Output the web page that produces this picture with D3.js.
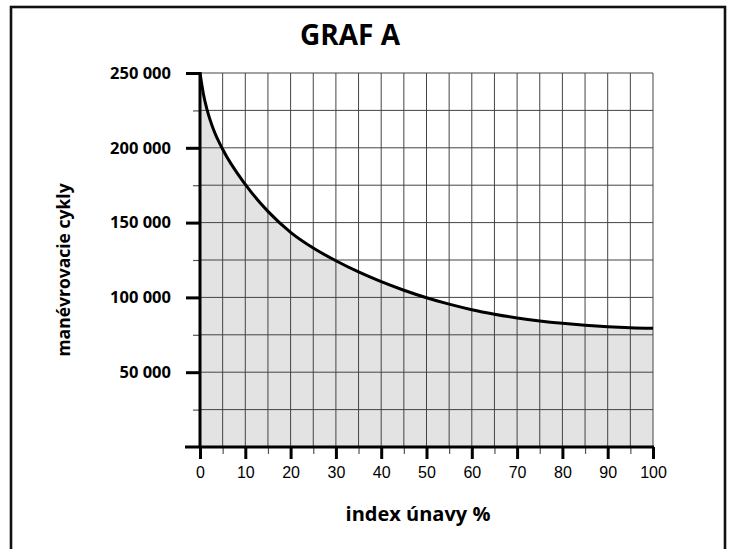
<!DOCTYPE html>
<html>
<head>
<meta charset="utf-8">
<script src="https://cdn.jsdelivr.net/npm/d3@7"></script>
<style>
  html, body { margin: 0; padding: 0; background: #fff; }
  svg { display: block; }
</style>
</head>
<body>
<svg id="chart" width="729" height="549"></svg>
<script>
// ---- data ----
const fatigueIndex = [0, 0.75, 1.6, 3, 5, 10, 15, 20, 25, 30, 35, 40, 45, 50, 55, 60, 65, 70, 75, 80, 85, 90, 95, 100];
const maneuverCycles = [250000, 236000, 225000, 212000, 199000, 175500, 157500, 143500, 133000, 124500, 117000, 110500, 104800, 99800, 95500, 91800, 88800, 86300, 84300, 82700, 81400, 80400, 79700, 79300];
const xMajorTicks = [0, 10, 20, 30, 40, 50, 60, 70, 80, 90, 100];
const xMinorTicks = [5, 15, 25, 35, 45, 55, 65, 75, 85, 95];
const yMajorTicks = [50000, 100000, 150000, 200000, 250000];
const yMinorTicks = [25000, 75000, 125000, 175000, 225000];
const titleText = "GRAF A";
const xTitle = "index únavy %";
const yTitle = "manévrovacie cykly";

const svg = d3.select("#chart");
const x = d3.scaleLinear().domain([0, 100]).range([200, 653]);
const y = d3.scaleLinear().domain([0, 250000]).range([447, 73]);
const points = fatigueIndex.map((d, i) => ({ x: d, y: maneuverCycles[i] }));

// outer frame
svg.append("rect")
  .attr("x", 11).attr("y", 7).attr("width", 714).attr("height", 580)
  .attr("fill", "none").attr("stroke", "#111").attr("stroke-width", 2.6);

// title
svg.append("text")
  .attr("x", 350).attr("y", 45)
  .attr("text-anchor", "middle")
  .style("font-family", "'Open Sans', sans-serif")
  .style("font-weight", 700)
  .style("font-size", "28px")
  .text(titleText);

// fill under curve
svg.append("path")
  .datum(points)
  .attr("fill", "#e3e3e3")
  .attr("d", d3.area().x(d => x(d.x)).y0(y(0)).y1(d => y(d.y)).curve(d3.curveMonotoneX));

// grid
const grid = svg.append("g").attr("stroke", "#444").attr("stroke-width", 1);
grid.selectAll("line.v")
  .data(xMajorTicks.concat(xMinorTicks).filter(d => d > 0))
  .join("line")
  .attr("x1", d => x(d)).attr("x2", d => x(d))
  .attr("y1", y(250000)).attr("y2", y(0));
grid.selectAll("line.h")
  .data(yMajorTicks.concat(yMinorTicks))
  .join("line")
  .attr("x1", x(0)).attr("x2", x(100))
  .attr("y1", d => y(d)).attr("y2", d => y(d));

// curve
svg.append("path")
  .datum(points)
  .attr("fill", "none")
  .attr("stroke", "#000")
  .attr("stroke-width", 3)
  .attr("d", d3.line().x(d => x(d.x)).y(d => y(d.y)).curve(d3.curveMonotoneX));

const fmt = v => d3.format(",")(v).replace(/,/g, " ");

// y axis: minor ticks
const yMinorAxis = svg.append("g").attr("transform", `translate(${x(0)},0)`)
  .call(d3.axisLeft(y).tickValues(yMinorTicks).tickSize(7).tickFormat(""));
yMinorAxis.select(".domain").remove();
yMinorAxis.selectAll(".tick line").attr("stroke", "#555").attr("stroke-width", 1.2);

// y axis: major ticks + labels
const yAxis = svg.append("g").attr("transform", `translate(${x(0)},0)`)
  .call(d3.axisLeft(y).tickValues(yMajorTicks).tickSize(14).tickPadding(15).tickFormat(fmt));
yAxis.select(".domain").remove();
yAxis.selectAll(".tick line").attr("stroke", "#000").attr("stroke-width", 3);
yAxis.selectAll(".tick text")
  .attr("fill", "#000")
  .style("font-family", "'Open Sans', sans-serif")
  .style("font-weight", 700)
  .style("font-size", "16.5px");

// x axis: minor ticks
const xMinorAxis = svg.append("g").attr("transform", `translate(0,${y(0)})`)
  .call(d3.axisBottom(x).tickValues(xMinorTicks).tickSize(7).tickFormat(""));
xMinorAxis.select(".domain").remove();
xMinorAxis.selectAll(".tick line").attr("stroke", "#555").attr("stroke-width", 1.2);

// x axis: major ticks + labels
const xAxis = svg.append("g").attr("transform", `translate(0,${y(0)})`)
  .call(d3.axisBottom(x).tickValues(xMajorTicks).tickSize(12).tickPadding(8).tickFormat(d3.format("d")));
xAxis.select(".domain").remove();
xAxis.selectAll(".tick line").attr("stroke", "#000").attr("stroke-width", 3);
xAxis.selectAll(".tick text")
  .attr("fill", "#000")
  .style("font-family", "'Liberation Sans', Arial, sans-serif")
  .style("font-size", "16px");

// axis lines
svg.append("line")
  .attr("x1", x(0)).attr("x2", x(0)).attr("y1", y(250000) - 1).attr("y2", y(0))
  .attr("stroke", "#000").attr("stroke-width", 3);
svg.append("line")
  .attr("x1", x(0) - 15).attr("x2", x(100) + 1).attr("y1", y(0)).attr("y2", y(0))
  .attr("stroke", "#000").attr("stroke-width", 3);

// axis titles
svg.append("text")
  .attr("x", 418).attr("y", 521)
  .attr("text-anchor", "middle")
  .style("font-family", "'Open Sans', sans-serif")
  .style("font-weight", 700)
  .style("font-size", "20px")
  .text(xTitle);

svg.append("text")
  .attr("transform", "translate(70,270) rotate(-90)")
  .attr("text-anchor", "middle")
  .style("font-family", "'Open Sans', sans-serif")
  .style("font-weight", 700)
  .style("font-size", "17.5px")
  .text(yTitle);
</script>
</body>
</html>
